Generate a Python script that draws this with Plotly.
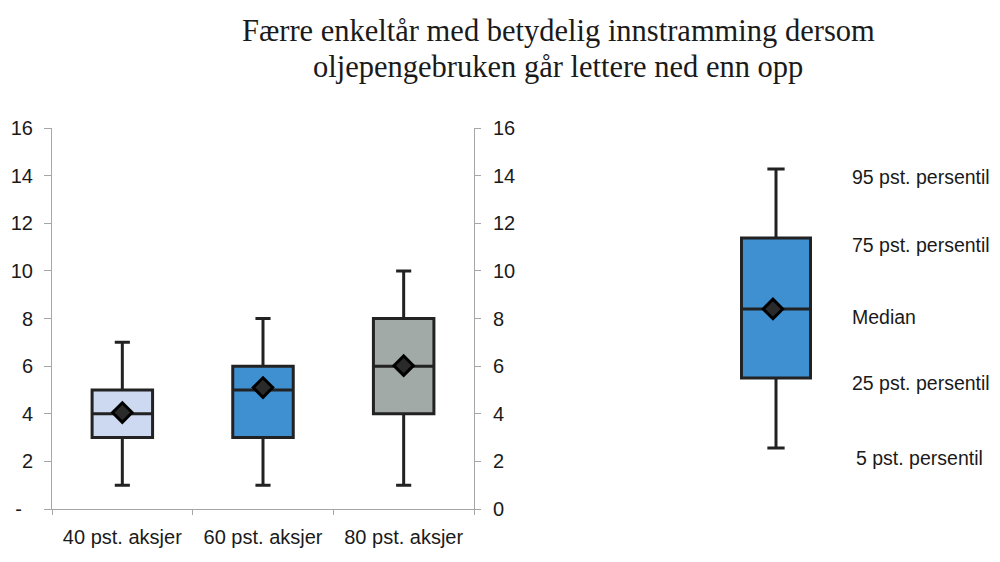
import plotly.graph_objects as go

# ---- data ----
categories = ["40 pst. aksjer", "60 pst. aksjer", "80 pst. aksjer"]
p5 = [1, 1, 1]
p25 = [3, 3, 4]
median = [4, 5, 6]
p75 = [5, 6, 8]
p95 = [7, 8, 10]
mean = [4.05, 5.1, 6.02]
fill_colors = ["#CCD9F1", "#3F90D1", "#A1AAA7"]

legend_p5 = 2.56
legend_p25 = 5.5
legend_median = 8.4
legend_p75 = 11.38
legend_p95 = 14.28
legend_labels = ["95 pst. persentil", "75 pst. persentil", "Median",
                 "25 pst. persentil", "5 pst. persentil"]

left_tickvals = [0, 2, 4, 6, 8, 10, 12, 14, 16]
left_ticktext = ["-\u00a0\u00a0", "2", "4", "6", "8", "10", "12", "14", "16"]
right_ticktext = ["0", "2", "4", "6", "8", "10", "12", "14", "16"]

title_lines = ["Færre enkeltår med betydelig innstramming dersom",
               "oljepengebruken går lettere ned enn opp"]

# page body has an 8px margin: lay out in reference pixel coords, shifted
OX, OY = 8, 8
W, H = 1000 - OX, 562 - OY


def px(x):
    return (x - OX) / W


def py(y):
    return 1 - (y - OY) / H


TXT = "#1a1a1a"
AX = "#a6a6a6"
FONT = "Liberation Sans, Arial, sans-serif"

fig = go.Figure()

for i, c in enumerate(categories):
    fig.add_trace(go.Box(
        x=[c], q1=[p25[i]], median=[median[i]], q3=[p75[i]],
        lowerfence=[p5[i]], upperfence=[p95[i]],
        width=0.43, whiskerwidth=0.25,
        fillcolor=fill_colors[i], line=dict(color="#222222", width=3),
        boxpoints=False, showlegend=False, hoverinfo="skip",
        xaxis="x", yaxis="y",
    ))

fig.add_trace(go.Scatter(
    x=categories, y=mean, mode="markers",
    marker=dict(symbol="diamond", size=15, color="#2a2a2a",
                line=dict(color="#000000", width=3)),
    showlegend=False, hoverinfo="skip", xaxis="x", yaxis="y",
))

# right axis (mirror) dummy trace
fig.add_trace(go.Scatter(x=[categories[0]], y=[None], xaxis="x", yaxis="y2",
                         showlegend=False, hoverinfo="skip"))

# legend box
fig.add_trace(go.Box(
    x=[0], q1=[legend_p25], median=[legend_median], q3=[legend_p75],
    lowerfence=[legend_p5], upperfence=[legend_p95],
    width=0.454, whiskerwidth=0.25,
    fillcolor=fill_colors[1], line=dict(color="#222222", width=3),
    boxpoints=False, showlegend=False, hoverinfo="skip",
    xaxis="x2", yaxis="y3",
))
fig.add_trace(go.Scatter(
    x=[-0.02], y=[legend_median], mode="markers",
    marker=dict(symbol="diamond", size=15, color="#2a2a2a",
                line=dict(color="#000000", width=3)),
    showlegend=False, hoverinfo="skip", xaxis="x2", yaxis="y3",
))

ydom = [py(509), py(128)]

fig.update_layout(
    width=W, height=H,
    margin=dict(l=0, r=0, t=0, b=0, pad=0, autoexpand=False),
    paper_bgcolor="white", plot_bgcolor="white",
    font=dict(family=FONT, size=20, color=TXT),
    boxmode="overlay",
    xaxis=dict(
        domain=[px(52), px(474)], type="category",
        categoryorder="array", categoryarray=categories,
        range=[-0.5, 2.5],
        showline=True, linecolor=AX, linewidth=1,
        ticks="outside", tickson="boundaries", ticklen=5, tickcolor=AX,
        showgrid=False, zeroline=False, automargin=False,
        tickfont=dict(size=20, color=TXT), ticklabelstandoff=10,
        anchor="y",
    ),
    yaxis=dict(
        domain=ydom, range=[0, 16],
        tickvals=left_tickvals, ticktext=left_ticktext,
        showline=True, linecolor=AX, linewidth=1,
        ticks="outside", ticklen=7, tickcolor=AX,
        showgrid=False, zeroline=False, automargin=False,
        tickfont=dict(size=20, color=TXT), ticklabelstandoff=7,
        anchor="x",
    ),
    yaxis2=dict(
        domain=ydom, range=[0, 16], overlaying="y", side="right",
        tickvals=left_tickvals, ticktext=right_ticktext,
        showline=True, linecolor=AX, linewidth=1,
        ticks="outside", ticklen=6, tickcolor=AX,
        showgrid=False, zeroline=False, automargin=False,
        tickfont=dict(size=20, color=TXT), ticklabelstandoff=8,
        anchor="x",
    ),
    xaxis2=dict(
        domain=[px(700), px(852)], range=[-0.5, 0.5],
        visible=False, anchor="y3", automargin=False,
    ),
    yaxis3=dict(
        domain=ydom, range=[0, 16], visible=False, anchor="x2",
        automargin=False,
    ),
)

for t, yp in zip(title_lines, [31, 67]):
    fig.add_annotation(
        text=t, x=px(558), y=py(yp), xref="paper", yref="paper",
        xanchor="center", yanchor="middle", showarrow=False,
        font=dict(family="Liberation Serif, Times New Roman, serif",
                  size=30.5, color=TXT),
    )

label_y = [177, 245, 317, 383, 458]
label_x = [850, 850, 850, 850, 854]
for t, xp, yp in zip(legend_labels, label_x, label_y):
    fig.add_annotation(
        text=t, x=px(xp), y=py(yp), xref="paper", yref="paper",
        xanchor="left", yanchor="middle", showarrow=False,
        font=dict(family=FONT, size=19.5, color=TXT),
    )

fig.write_html("out.html")
